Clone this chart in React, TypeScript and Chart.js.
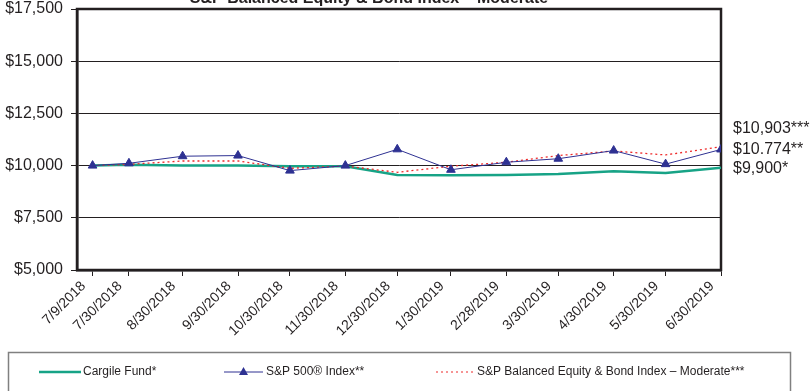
import React, { useEffect, useRef } from 'react';
import { Chart, registerables } from 'chart.js';

Chart.register(...registerables);

const chartTitle = 'S&P Balanced Equity & Bond Index – Moderate';
const dates = ['7/9/2018', '7/30/2018', '8/30/2018', '9/30/2018', '10/30/2018', '11/30/2018', '12/30/2018', '1/30/2019', '2/28/2019', '3/30/2019', '4/30/2019', '5/30/2019', '6/30/2019'];
const cargileFund = [10000, 10040, 10000, 10000, 9970, 9970, 9550, 9540, 9550, 9600, 9730, 9640, 9900];
const sp500 = [10000, 10110, 10450, 10480, 9760, 10000, 10780, 9800, 10160, 10330, 10720, 10070, 10774];
const balancedModerate = [10000, 10060, 10220, 10220, 9870, 9980, 9680, 9970, 10160, 10480, 10700, 10510, 10903];
const yTicks = [5000, 7500, 10000, 12500, 15000, 17500];
const seriesNames = ['Cargile Fund*', 'S&P 500® Index**', 'S&P Balanced Equity & Bond Index – Moderate***'];
const endLabels = ['$10,903***', '$10.774**', '$9,900*'];

const GREEN = '#17a386';
const BLUE = '#2e3192';
const RED = '#ee2a2a';
const INK = '#231f20';
const FONT = '"Liberation Sans", Arial, sans-serif';

// position of each date on a month-based axis (0 = start of July 2018)
const monthPos = (d: string) => {
  const [m, day, y] = d.split('/').map(Number);
  const idx = (y - 2018) * 12 + (m - 7);
  const dim = new Date(y, m, 0).getDate();
  return idx + day / dim;
};
const xs = dates.map(monthPos);
const pts = (vals: number[]) => vals.map((v, i) => ({ x: xs[i], y: v }));

const decorPlugin = {
  id: 'decor',
  beforeDatasetsDraw(chart: any) {
    const { ctx, chartArea: a } = chart;
    ctx.save();
    ctx.strokeStyle = INK;
    ctx.lineWidth = 2.5;
    ctx.strokeRect(a.left, a.top, a.right - a.left, a.bottom - a.top);
    ctx.restore();
  },
  afterDraw(chart: any) {
    const { ctx } = chart;
    ctx.save();
    // title (cropped at the top)
    ctx.fillStyle = INK;
    ctx.font = `bold 16px ${FONT}`;
    ctx.textAlign = 'center';
    ctx.textBaseline = 'alphabetic';
    ctx.fillText(chartTitle, 369, 3);

    // end labels
    ctx.font = `16px ${FONT}`;
    ctx.textAlign = 'left';
    ctx.textBaseline = 'middle';
    ctx.fillText(endLabels[0], 733, 129);
    ctx.fillText(endLabels[1], 733, 150);
    ctx.fillText(endLabels[2], 733, 169);

    // legend box
    ctx.strokeStyle = '#808080';
    ctx.lineWidth = 1.5;
    ctx.strokeRect(8.5, 352.5, 782, 60);
    const ly = 372;
    ctx.font = `12px ${FONT}`;
    // green
    ctx.strokeStyle = GREEN;
    ctx.lineWidth = 2.5;
    ctx.beginPath(); ctx.moveTo(39, ly); ctx.lineTo(81, ly); ctx.stroke();
    ctx.fillStyle = INK;
    ctx.fillText(seriesNames[0], 83, ly);
    // blue
    ctx.strokeStyle = BLUE;
    ctx.lineWidth = 1;
    ctx.beginPath(); ctx.moveTo(224, ly); ctx.lineTo(263, ly); ctx.stroke();
    ctx.fillStyle = BLUE;
    ctx.beginPath(); ctx.moveTo(243.5, ly - 5); ctx.lineTo(248, ly + 3); ctx.lineTo(239, ly + 3); ctx.closePath(); ctx.fill();
    ctx.fillStyle = INK;
    ctx.fillText(seriesNames[1], 266, ly);
    // red dotted
    ctx.strokeStyle = RED;
    ctx.lineWidth = 1.2;
    ctx.setLineDash([2, 3]);
    ctx.beginPath(); ctx.moveTo(436, ly); ctx.lineTo(474, ly); ctx.stroke();
    ctx.setLineDash([]);
    ctx.fillStyle = INK;
    ctx.fillText(seriesNames[2], 477, ly);
    ctx.restore();
  },
};

export default function App() {
  const ref = useRef<HTMLCanvasElement | null>(null);
  useEffect(() => {
    if (!ref.current) return;
    const chart = new Chart(ref.current, {
      type: 'line',
      data: {
        datasets: [
          {
            label: seriesNames[0],
            data: pts(cargileFund),
            borderColor: GREEN,
            borderWidth: 2.5,
            pointRadius: 0,
            tension: 0,
            order: 3,
          },
          {
            label: seriesNames[1],
            data: pts(sp500),
            borderColor: BLUE,
            backgroundColor: BLUE,
            borderWidth: 1,
            pointStyle: 'triangle',
            pointRadius: 5,
            pointBackgroundColor: BLUE,
            pointBorderColor: BLUE,
            tension: 0,
            order: 1,
          },
          {
            label: seriesNames[2],
            data: pts(balancedModerate),
            borderColor: RED,
            borderWidth: 1.3,
            borderDash: [2, 3],
            pointRadius: 0,
            tension: 0,
            order: 2,
          },
        ],
      },
      options: {
        responsive: false,
        animation: false,
        layout: { padding: { top: 0, right: 90, left: 0, bottom: 0 } },
        plugins: { legend: { display: false }, title: { display: false }, tooltip: { enabled: false } },
        scales: {
          x: {
            type: 'linear',
            min: 0,
            max: 12,
            afterBuildTicks: (s: any) => {
              s.ticks = xs.map((v) => ({ value: v }));
            },
            afterFit: (s: any) => {
              s.height = 121;
            },
            ticks: {
              autoSkip: false,
              maxRotation: 45,
              minRotation: 45,
              padding: 2,
              labelOffset: -9,
              color: INK,
              font: { family: FONT, size: 14 },
              callback: (_v: any, i: number) => dates[i],
            },
            grid: { drawOnChartArea: false, drawTicks: true, tickLength: 6, color: INK, lineWidth: 1 },
            border: { display: true, color: INK, width: 2.5 },
          },
          y: {
            min: yTicks[0],
            max: yTicks[yTicks.length - 1],
            afterBuildTicks: (s: any) => {
              s.ticks = yTicks.map((v) => ({ value: v }));
            },
            afterFit: (s: any) => {
              s.width = 77;
              s.paddingTop = 9;
              s.paddingBottom = 9;
            },
            ticks: {
              padding: 8,
              color: INK,
              font: { family: FONT, size: 16 },
              callback: (v: any) => '$' + Number(v).toLocaleString('en-US'),
            },
            grid: { color: INK, lineWidth: 1, tickLength: 6 },
            border: { display: true, color: INK, width: 2.5 },
          },
        },
      },
      plugins: [decorPlugin],
    } as any);
    return () => chart.destroy();
  }, []);
  return (
    <div style={{ position: 'absolute', left: 0, top: 0, width: 811, height: 391, background: '#fff' }}>
      <canvas ref={ref} width={811} height={391} style={{ display: 'block' }} />
    </div>
  );
}
